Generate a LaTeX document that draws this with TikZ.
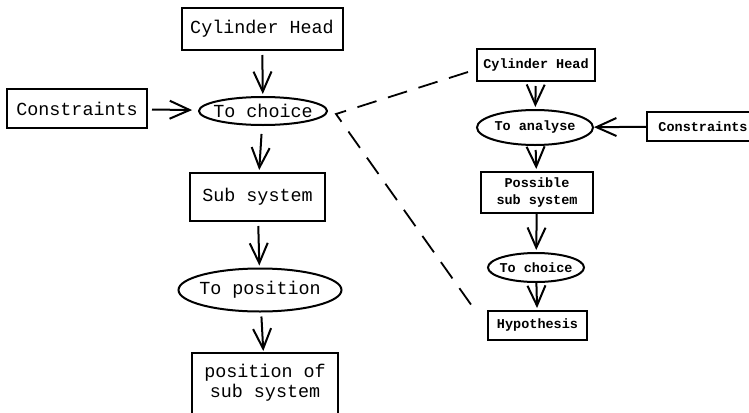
\documentclass[tikz,border=0pt]{standalone}
\usepackage{fontspec}
\setmonofont{Liberation Mono}
\usetikzlibrary{arrows.meta,shapes.geometric}

\begin{document}
\begin{tikzpicture}[x=0.5pt,y=-0.5pt,
    box/.style={draw,line width=1pt,inner sep=0pt,align=center,
      font=\ttfamily\fontsize{9.2}{10}\selectfont},
    oval/.style={box,ellipse},
    small/.style={font=\ttfamily\bfseries\fontsize{6.75}{8.5}\selectfont},
    flow/.style={-{Straight Barb[length=10pt,width=9pt]},line width=1pt,
      shorten <=2pt,shorten >=1pt}]
                \useasboundingbox (0,0) rectangle (749,412);
                \clip (0,0) rectangle (749,412);
                % main chain
                \node[box,minimum width=80.5pt,minimum height=21pt] (head) at (262,29) {Cylinder Head};
                \node[oval,minimum width=64pt,minimum height=14pt] (choice) at (263,111) {\makebox[0pt]{To choice}};
                \node[box,minimum width=70pt,minimum height=19.5pt] (cons) at (77,108.5) {Constraints};
                \node[box,minimum width=67.5pt,minimum height=24pt] (sub) at (257.5,197) {Sub system};
                \node[oval,minimum width=81.5pt,minimum height=21.5pt] (posit) at (260,290) {\makebox[0pt]{To position}};
                \node[box,draw=none,minimum width=72pt,minimum height=29pt] (result) at (265,383) {position of\\sub system};
                \draw[line width=1pt] (result.south west) -- (result.north west) -- (result.north east) -- (result.south east);
                \draw[flow] (head) -- (choice);
                \draw[flow,shorten >=3pt] (cons) -- (choice);
                \draw[flow,shorten <=4pt] (choice) -- (sub);
                \draw[flow] (sub) -- (posit);
                \draw[flow] (posit) -- (result);
                % detail of "To choice"
                \node[box,small,minimum width=59pt,minimum height=16pt] (head2) at (536,65) {Cylinder Head};
                \node[oval,small,minimum width=58pt,minimum height=17.5pt] (analyse) at (535,127.5) {\makebox[0pt]{To analyse}};
                \node[box,small,minimum width=56pt,minimum height=14.5pt] (cons2) at (703,126.5) {Constraints};
                \node[box,small,minimum width=56pt,minimum height=20.5pt] (possible) at (537,192.5) {Possible\\sub system};
                \node[oval,small,minimum width=48pt,minimum height=14.5pt] (choice2) at (536,267.5) {\makebox[0pt]{To choice}};
                \node[box,small,minimum width=49.5pt,minimum height=14.5pt] (hyp) at (537.5,325.5) {Hypothesis};
                \draw[flow] (head2) -- (analyse);
                \draw[flow,shorten <=0pt,shorten >=0pt] (cons2) -- (analyse);
                \draw[flow] (analyse) -- (possible);
                \draw[flow,shorten <=0pt] (possible) -- (choice2);
                \draw[flow,shorten <=0pt] (choice2) -- (hyp);
                % zoom lines
                \coordinate (split) at (336,114);
                \coordinate (top) at (468,72);
                \coordinate (bot) at (472,306);
                \draw[line width=0.9pt,dash pattern=on 10pt off 6pt] (top) -- (split) -- (bot);
            \end{tikzpicture}
\end{document}
